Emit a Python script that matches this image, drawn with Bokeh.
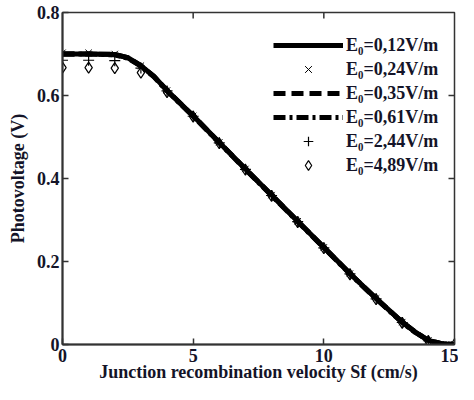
import math
from bokeh.plotting import figure
from bokeh.models import Range1d, FixedTicker, Legend, LegendItem
from bokeh.embed import file_html
from bokeh.resources import INLINE

# ---- data ----
sf_line = [0, 1, 2, 2.5, 3, 3.5, 4, 5, 6, 7, 8, 9, 10, 11, 12, 13, 13.5, 14, 14.5, 15]
v_012 = [0.700, 0.700, 0.699, 0.691, 0.672, 0.646, 0.612, 0.551, 0.487, 0.423, 0.360,
         0.297, 0.234, 0.171, 0.111, 0.054, 0.030, 0.010, 0.002, 0.000]
v_035 = [0.700, 0.700, 0.699, 0.691, 0.672, 0.646, 0.612, 0.551, 0.487, 0.423, 0.360,
         0.297, 0.234, 0.171, 0.111, 0.054, 0.030, 0.010, 0.002, 0.000]
v_061 = [0.700, 0.700, 0.698, 0.690, 0.671, 0.645, 0.611, 0.550, 0.486, 0.422, 0.359,
         0.296, 0.233, 0.170, 0.110, 0.053, 0.029, 0.010, 0.002, 0.000]

sf_pts = [0, 1, 2, 3, 4, 5, 6, 7, 8, 9, 10, 11, 12, 13, 14, 15]
v_024 = [0.703, 0.703, 0.700, 0.672, 0.612, 0.551, 0.487, 0.423, 0.360, 0.297, 0.234,
         0.171, 0.111, 0.054, 0.010, 0.000]
v_244 = [0.685, 0.685, 0.684, 0.666, 0.611, 0.550, 0.486, 0.422, 0.359, 0.296, 0.233,
         0.170, 0.110, 0.053, 0.009, 0.000]
v_489 = [0.667, 0.667, 0.666, 0.655, 0.608, 0.549, 0.485, 0.421, 0.358, 0.295, 0.232,
         0.169, 0.109, 0.052, 0.008, 0.000]

labels = ["E\u2080=0,12V/m", "E\u2080=0,24V/m", "E\u2080=0,35V/m",
          "E\u2080=0,61V/m", "E\u2080=2,44V/m", "E\u2080=4,89V/m"]

x_ticks = [0, 5, 10, 15]
y_ticks = [0, 0.2, 0.4, 0.6, 0.8]
y_tick_labels = {0: "0", 0.2: "0.2", 0.4: "0.4", 0.6: "0.6", 0.8: "0.8"}

X_MIN, X_MAX = 0, 15
Y_MIN, Y_MAX = 0, 0.8

FONT = "Liberation Serif"
TXT = "#141428"
AX = "#333333"

p = figure(width=458, height=384, output_backend="svg", toolbar_location=None,
           x_range=Range1d(X_MIN, X_MAX), y_range=Range1d(Y_MIN, Y_MAX),
           min_border_left=62, min_border_right=4, min_border_top=12, min_border_bottom=37)
p.grid.visible = False
p.outline_line_color = AX
p.outline_line_width = 1.5
p.background_fill_color = "white"
p.border_fill_color = "white"

# markers first, thick lines on top
r024 = p.scatter(sf_pts, v_024, marker="x", size=9, line_color="black", line_width=1)
r244 = p.scatter(sf_pts, v_244, marker="cross", size=11, line_color="black", line_width=1.2)
r489 = p.scatter(sf_pts, v_489, marker="diamond", size=11, line_color="black",
                 fill_color=None, line_width=1.2)
r012 = p.line(sf_line, v_012, line_color="black", line_width=5)
r035 = p.line(sf_line, v_035, line_color="black", line_width=5, line_dash="12 6")
r061 = p.line(sf_line, v_061, line_color="black", line_width=5, line_dash="12 4 3 4")

# mirrored inward ticks on the top and right frame edges (clipped to the frame)
top_ticks = [t for t in x_ticks if X_MIN < t < X_MAX]
right_ticks = [t for t in y_ticks if Y_MIN < t < Y_MAX]
p.scatter(top_ticks, [Y_MAX] * len(top_ticks), marker="dash", angle=math.pi / 2,
          size=12, line_color=AX, line_width=1.5)
p.scatter([X_MAX] * len(right_ticks), right_ticks, marker="dash",
          size=12, line_color=AX, line_width=1.5)

for ax in (p.xaxis[0], p.yaxis[0]):
    ax.major_tick_in = 6
    ax.major_tick_out = 0
    ax.minor_tick_in = 0
    ax.minor_tick_out = 0
    ax.axis_line_color = AX
    ax.axis_line_width = 2
    ax.major_tick_line_color = AX
    ax.major_tick_line_width = 1.5
    ax.major_label_text_font = FONT
    ax.major_label_text_font_style = "bold"
    ax.major_label_text_font_size = "18px"
    ax.major_label_text_color = TXT
    ax.major_label_text_line_height = 1.0
    ax.axis_label_text_font = FONT
    ax.axis_label_text_font_style = "bold"
    ax.axis_label_text_font_size = "18px"
    ax.axis_label_text_color = TXT
    ax.axis_label_text_line_height = 1.0

p.xaxis[0].ticker = FixedTicker(ticks=x_ticks)
p.yaxis[0].ticker = FixedTicker(ticks=y_ticks)
p.yaxis[0].major_label_overrides = y_tick_labels
p.xaxis[0].axis_label = "Junction recombination velocity Sf (cm/s)"
p.yaxis[0].axis_label = "Photovoltage (V)"
p.xaxis[0].major_label_standoff = 4
p.yaxis[0].major_label_standoff = 3
p.xaxis[0].axis_label_standoff = -3
p.yaxis[0].axis_label_standoff = 6

legend = Legend(items=[
    LegendItem(label=labels[0], renderers=[r012]),
    LegendItem(label=labels[1], renderers=[r024]),
    LegendItem(label=labels[2], renderers=[r035]),
    LegendItem(label=labels[3], renderers=[r061]),
    LegendItem(label=labels[4], renderers=[r244]),
    LegendItem(label=labels[5], renderers=[r489]),
], location=(211, 167))
legend.margin = 0
legend.padding = 5
legend.spacing = 0
legend.glyph_width = 70
legend.glyph_height = 24
legend.label_height = 24
legend.label_standoff = 3
legend.label_text_font = FONT
legend.label_text_font_style = "bold"
legend.label_text_font_size = "18px"
legend.label_text_color = TXT
legend.background_fill_alpha = 0
legend.border_line_color = None
p.add_layout(legend)

open("out.html", "w").write(file_html(p, INLINE))
